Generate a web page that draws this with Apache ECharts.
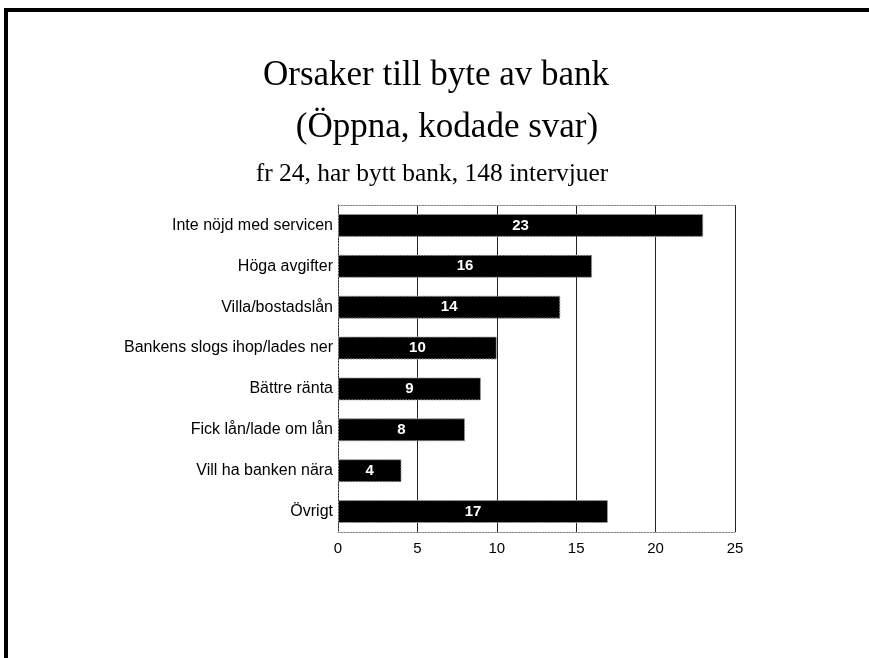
<!DOCTYPE html>
<html>
<head>
<meta charset="utf-8">
<style>
  html, body { margin: 0; padding: 0; background: #fff; }
  #chart { width: 869px; height: 658px; }
</style>
<script src="https://cdn.jsdelivr.net/npm/echarts@6/dist/echarts.min.js"></script>
</head>
<body>
<div id="chart"></div>
<script>
// Reasons given for switching bank (open, coded answers)
var categories = [
  'Inte nöjd med servicen',
  'Höga avgifter',
  'Villa/bostadslån',
  'Bankens slogs ihop/lades ner',
  'Bättre ränta',
  'Fick lån/lade om lån',
  'Vill ha banken nära',
  'Övrigt'
];
var counts = [23, 16, 14, 10, 9, 8, 4, 17];
var axisTicks = [0, 5, 10, 15, 20, 25];

var titleLines = [
  'Orsaker till byte av bank',
  '(Öppna, kodade svar)',
  'fr 24, har bytt bank, 148 intervjuer'
];

var chart = echarts.init(document.getElementById('chart'), null, { renderer: 'canvas' });

var serif = '"Liberation Serif", "Times New Roman", serif';
var sans = '"Liberation Sans", Arial, sans-serif';

chart.setOption({
  animation: false,
  backgroundColor: '#ffffff',
  title: [
    { text: titleLines[0], left: 431, top: 53, textAlign: 'center',
      textStyle: { fontFamily: serif, fontWeight: 'normal', fontSize: 35, color: '#000' } },
    { text: titleLines[1], left: 442, top: 105, textAlign: 'center',
      textStyle: { fontFamily: serif, fontWeight: 'normal', fontSize: 35, color: '#000' } },
    { text: titleLines[2], left: 427, top: 156, textAlign: 'center',
      textStyle: { fontFamily: serif, fontWeight: 'normal', fontSize: 25.5, color: '#000' } }
  ],
  graphic: [
    { type: 'rect', shape: { x: 6, y: 10, width: 900, height: 700 },
      style: { fill: 'none', stroke: '#000', lineWidth: 4 }, silent: true }
  ],
  grid: { left: 338, right: 134, top: 205, bottom: 126, containLabel: false },
  xAxis: [
    {
      type: 'value', min: axisTicks[0], max: axisTicks[axisTicks.length - 1], interval: 5,
      position: 'bottom',
      axisLine: { show: true, lineStyle: { color: '#888', type: [2, 1], width: 1 } },
      axisTick: { show: false },
      axisLabel: { color: '#000', fontFamily: sans, fontSize: 15, margin: 9 },
      splitLine: { show: true, lineStyle: { color: ['transparent', '#222', '#222', '#222', '#222', '#222'], width: 1 } }
    },
    {
      type: 'value', min: axisTicks[0], max: axisTicks[axisTicks.length - 1], interval: 5,
      position: 'top',
      axisLine: { show: true, lineStyle: { color: '#888', type: [2, 1], width: 1 } },
      axisTick: { show: false }, axisLabel: { show: false }, splitLine: { show: false }
    }
  ],
  yAxis: {
    type: 'category', data: categories, inverse: true,
    axisLine: { show: true, lineStyle: { color: '#333', type: [2, 1], width: 1 } },
    axisTick: { show: false },
    axisLabel: { color: '#000', fontFamily: sans, fontSize: 16, margin: 5, padding: [3, 0, 0, 0] }
  },
  series: [{
    type: 'bar',
    data: counts,
    barWidth: '56%',
    itemStyle: { color: '#000', borderColor: '#999', borderWidth: 1, borderType: [2, 1] },
    label: {
      show: true, position: 'inside', color: '#fff',
      fontFamily: sans, fontWeight: 'bold', fontSize: 15, padding: [2, 0, 0, 0]
    }
  }]
});
</script>
</body>
</html>
